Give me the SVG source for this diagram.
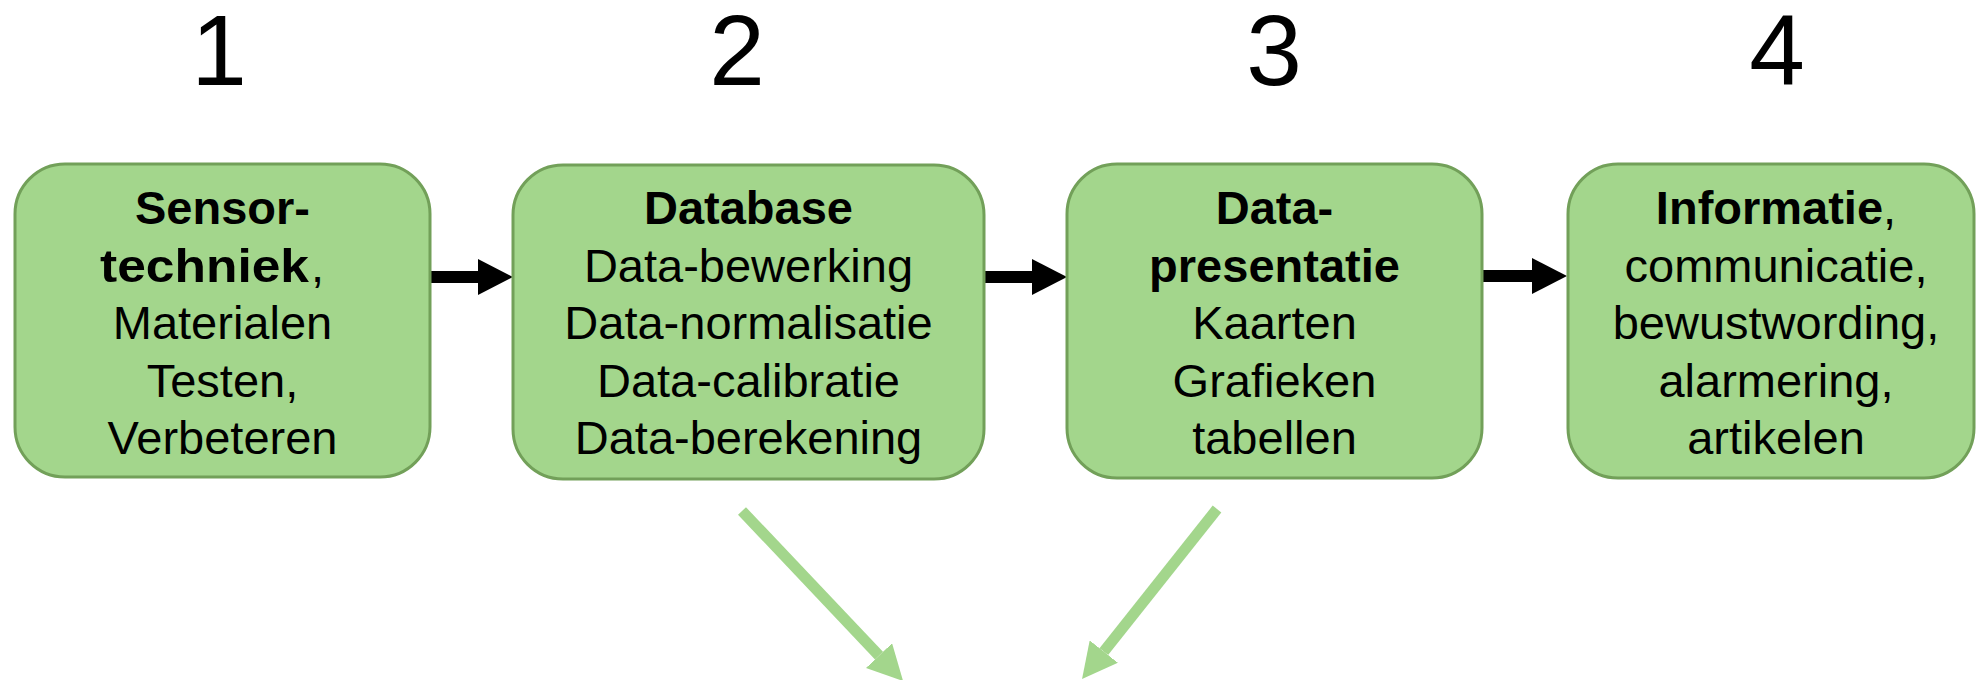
<svg xmlns="http://www.w3.org/2000/svg" width="1977" height="680" viewBox="0 0 1977 680">
  <defs>
    <style>
      .box { fill: #a3d68c; stroke: #72a059; stroke-width: 3; }
      .lbl { font-family: "Liberation Sans", Arial, sans-serif; font-size: 47px; fill: #000; text-anchor: middle; }
      .start { text-anchor: start; }
      .b { font-weight: bold; }
      .num { font-family: "Liberation Sans", Arial, sans-serif; font-size: 100px; fill: #000; text-anchor: middle; }
      .flow { stroke: #000; stroke-width: 12; fill: none; }
      .feed { stroke: #a3d68c; stroke-width: 11; fill: none; }
    </style>
    <marker id="headBlack" markerUnits="userSpaceOnUse" markerWidth="35" markerHeight="36" refX="0" refY="18" orient="auto">
      <path d="M0,0 L35,18 L0,36 Z" fill="#000"/>
    </marker>
    <marker id="headGreen" markerUnits="userSpaceOnUse" markerWidth="35" markerHeight="36" refX="0" refY="18" orient="auto">
      <path d="M0,0 L35,18 L0,36 Z" fill="#a3d68c"/>
    </marker>
  </defs>

  <rect width="1977" height="680" fill="#fff"/>

  <!-- step numbers -->
  <g id="numbers">
    <text class="num" x="219" y="85">1</text>
    <text class="num" x="737" y="85">2</text>
    <text class="num" x="1274" y="85">3</text>
    <text class="num" x="1777" y="85">4</text>
  </g>

  <!-- connectors -->
  <g id="connectors">
    <line class="flow" x1="430" y1="277" x2="478" y2="277" marker-end="url(#headBlack)"/>
    <line class="flow" x1="984" y1="277" x2="1032" y2="277" marker-end="url(#headBlack)"/>
    <line class="flow" x1="1482" y1="276" x2="1532" y2="276" marker-end="url(#headBlack)"/>
    <line class="feed" x1="742" y1="511" x2="879" y2="655.6" marker-end="url(#headGreen)"/>
    <line class="feed" x1="1217" y1="509" x2="1103.8" y2="651.6" marker-end="url(#headGreen)"/>
  </g>

  <!-- step 1 -->
  <g id="node-sensortechniek">
    <rect class="box" x="15" y="164" width="415" height="313" rx="50" ry="50"/>
    <text class="lbl b" x="222.5" y="224">Sensor-</text>
    <text class="lbl b start" x="100" y="281.5" textLength="209" lengthAdjust="spacingAndGlyphs">techniek</text>
    <text class="lbl start" x="311" y="281.5">,</text>
    <text class="lbl" x="222.5" y="339">Materialen</text>
    <text class="lbl" x="222.5" y="396.5">Testen,</text>
    <text class="lbl" x="222.5" y="454">Verbeteren</text>
  </g>

  <!-- step 2 -->
  <g id="node-database">
    <rect class="box" x="513" y="165" width="471" height="314" rx="50" ry="50"/>
    <text class="lbl b" x="748.5" y="224">Database</text>
    <text class="lbl" x="748.5" y="281.5">Data-bewerking</text>
    <text class="lbl" x="748.5" y="339">Data-normalisatie</text>
    <text class="lbl" x="748.5" y="396.5">Data-calibratie</text>
    <text class="lbl" x="748.5" y="454">Data-berekening</text>
  </g>

  <!-- step 3 -->
  <g id="node-datapresentatie">
    <rect class="box" x="1067" y="164" width="415" height="314" rx="50" ry="50"/>
    <text class="lbl b" x="1274.5" y="224">Data-</text>
    <text class="lbl b" x="1274.5" y="281.5">presentatie</text>
    <text class="lbl" x="1274.5" y="339">Kaarten</text>
    <text class="lbl" x="1274.5" y="396.5">Grafieken</text>
    <text class="lbl" x="1274.5" y="454">tabellen</text>
  </g>

  <!-- step 4 -->
  <g id="node-informatie">
    <rect class="box" x="1568" y="164" width="406" height="314" rx="50" ry="50"/>
    <text class="lbl" x="1776" y="224"><tspan class="b">Informatie</tspan>,</text>
    <text class="lbl" x="1776" y="281.5">communicatie,</text>
    <text class="lbl" x="1776" y="339">bewustwording,</text>
    <text class="lbl" x="1776" y="396.5">alarmering,</text>
    <text class="lbl" x="1776" y="454">artikelen</text>
  </g>
</svg>
